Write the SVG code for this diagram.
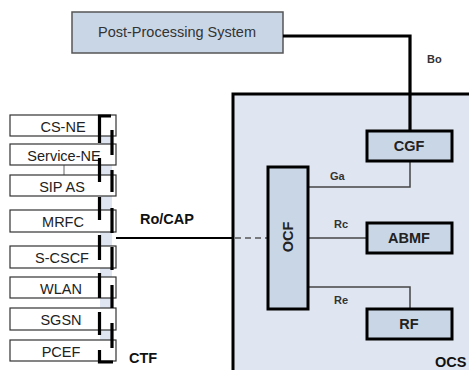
<svg xmlns="http://www.w3.org/2000/svg" width="469" height="370" viewBox="0 0 469 370">
<style>
.ne{fill:#fff;stroke:#333;stroke-width:1.2}
.net{font-family:"Liberation Sans",Arial,sans-serif;font-size:14.5px;fill:#222;text-anchor:middle}
.bar{stroke:#000;stroke-width:3.2;fill:none}
.fn{fill:#c9d6e6;stroke:#000;stroke-width:3}
.fnt{font-family:"Liberation Sans",Arial,sans-serif;font-size:14.5px;font-weight:bold;fill:#222;text-anchor:middle}
.lbl{font-family:"Liberation Sans",Arial,sans-serif;font-size:11px;font-weight:bold;fill:#333}
.big{font-family:"Liberation Sans",Arial,sans-serif;font-size:14.5px;font-weight:bold;fill:#111}
.thin{stroke:#444;stroke-width:1.5;fill:none}
</style>
<rect width="469" height="370" fill="#fff"/>
<g id="ocs">
<rect x="233" y="94" width="250" height="290" fill="#dfe6f1" stroke="#000" stroke-width="3"/>
<text class="big" x="435" y="367">OCS</text>
</g>
<g id="post-processing">
<rect x="72" y="12" width="211" height="41" fill="#c9d6e6" stroke="#555" stroke-width="1.5"/>
<text x="177" y="37" font-family="'Liberation Sans',Arial,sans-serif" font-size="14.5" fill="#333" text-anchor="middle">Post-Processing System</text>
</g>
<g id="connectors">
<polyline class="bar" points="283,36 410,36 410,131" stroke-width="2"/>
<polyline class="thin" points="308,187 410,187 410,161"/>
<line class="thin" x1="308" y1="238" x2="367" y2="238"/>
<polyline class="thin" points="308,287 410,287 410,309"/>
<line x1="116" y1="238" x2="233" y2="238" stroke="#000" stroke-width="2"/>
<line x1="235" y1="238" x2="268" y2="238" stroke="#555" stroke-width="1.5" stroke-dasharray="6,4"/>
<line x1="64" y1="165" x2="64" y2="175" stroke="#666" stroke-width="1"/>
<text class="lbl" x="427" y="63">Bo</text>
<text class="lbl" x="330" y="180">Ga</text>
<text class="lbl" x="334" y="228">Rc</text>
<text class="lbl" x="334" y="304">Re</text>
<text class="big" x="140" y="224" font-size="12.5">Ro/CAP</text>
</g>
<g id="ctf">
<rect x="100" y="115" width="12" height="247" fill="#dfe6f1"/>
<g id="cs-ne"><rect class="ne" x="10" y="115" width="106" height="21"/><text class="net" x="63" y="132">CS-NE</text></g>
<g id="service-ne"><rect class="ne" x="10" y="144" width="106" height="21"/><text class="net" x="64" y="161">Service-NE</text></g>
<g id="sip-as"><rect class="ne" x="10" y="175" width="106" height="21"/><text class="net" x="62" y="192">SIP AS</text></g>
<g id="mrfc"><rect class="ne" x="10" y="210" width="106" height="22"/><text class="net" x="63" y="227">MRFC</text></g>
<g id="s-cscf"><rect class="ne" x="10" y="246" width="106" height="22"/><text class="net" x="62" y="263">S-CSCF</text></g>
<g id="wlan"><rect class="ne" x="10" y="277" width="106" height="21"/><text class="net" x="61" y="294">WLAN</text></g>
<g id="sgsn"><rect class="ne" x="10" y="308" width="106" height="22"/><text class="net" x="61" y="325">SGSN</text></g>
<g id="pcef"><rect class="ne" x="10" y="340" width="106" height="21"/><text class="net" x="61" y="357">PCEF</text></g>
<path class="bar" d="M111,116 H99.5 V143 M112,130 V155 M99.5,158 V182 M112,170 V192 M99.5,197 V220 M112,208 V233 M99.5,235 V260 M112,247 V270 M99.5,273 V298 M112,285 V308 M99.5,312 V335 M112,323 V348 M99.5,350 V362 H113"/>
<text class="big" x="129" y="363">CTF</text>
</g>
<g id="ocf">
<rect class="fn" x="268" y="167" width="40" height="142"/>
<text class="fnt" transform="translate(293,237) rotate(-90)">OCF</text>
</g>
<g id="cgf"><rect class="fn" x="367" y="131" width="85" height="30"/><text class="fnt" x="409" y="151">CGF</text></g>
<g id="abmf"><rect class="fn" x="367" y="223" width="85" height="30"/><text class="fnt" x="409" y="243">ABMF</text></g>
<g id="rf"><rect class="fn" x="367" y="309" width="85" height="30"/><text class="fnt" x="409" y="329">RF</text></g>
</svg>
